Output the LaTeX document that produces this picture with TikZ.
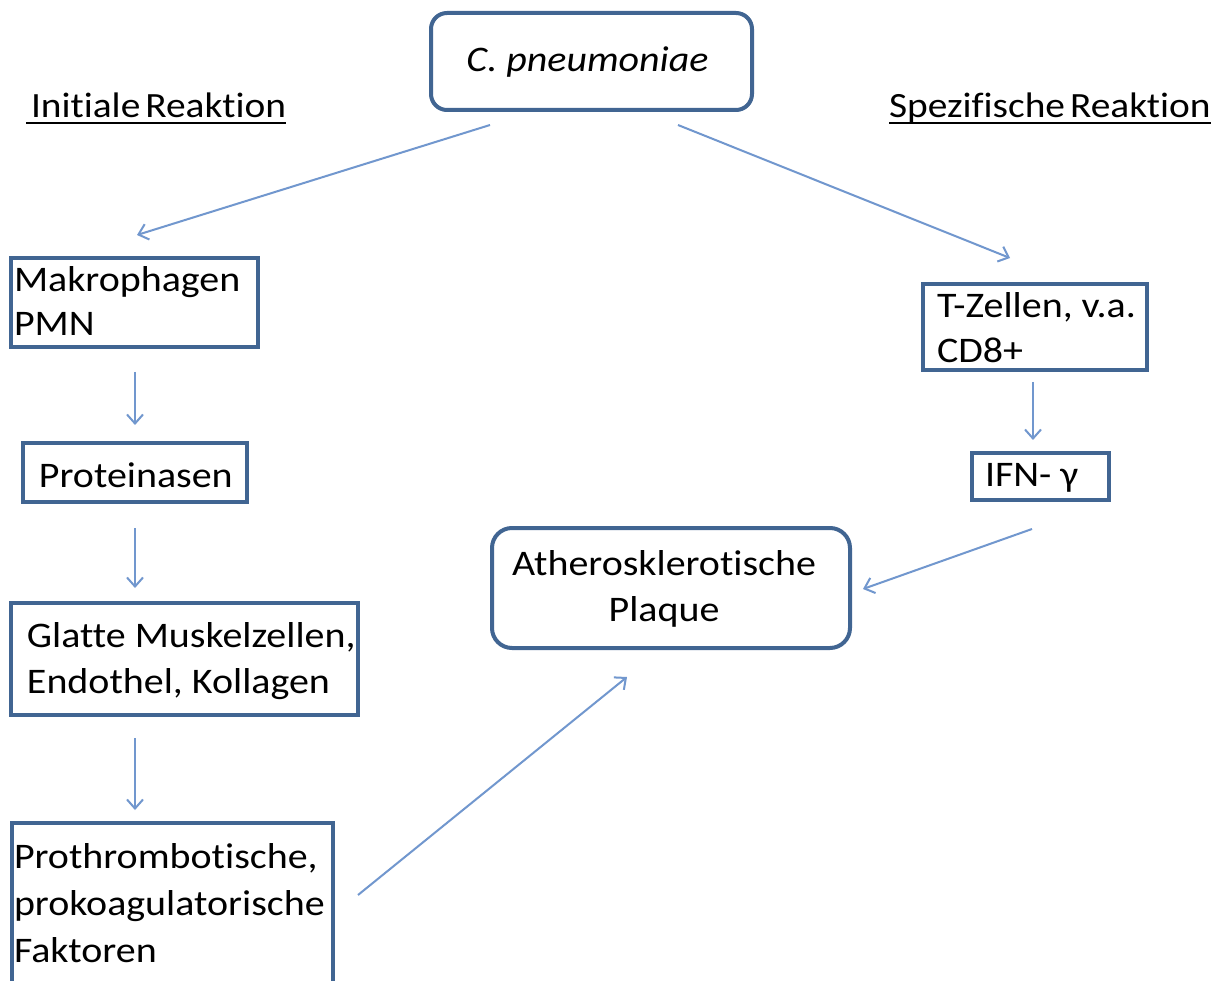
\documentclass[tikz,border=0pt]{standalone}
\usepackage{fontspec}
\setmainfont{Carlito}[FakeStretch=1.11, Ligatures=NoCommon]
\usetikzlibrary{arrows.meta}
\definecolor{boxblue}{RGB}{65,101,146}
\definecolor{arrblue}{RGB}{113,151,206}
% #1 height, #2 width, #3 left pad, #4 baselineskip, #5 first baseline from top, #6 text
\newcommand\ltext[6]{\parbox[c][#1][t]{#2}{\raggedright\leftskip=#3\baselineskip=#4\rule{0pt}{#5}\ignorespaces#6}}
% #3 extra right pad (centred text)
\newcommand\ctext[6]{\parbox[c][#1][t]{#2}{\centering\leftskip=0pt plus 1fil\rightskip=#3 plus 1fil\baselineskip=#4\rule{0pt}{#5}\ignorespaces#6}}
\tikzset{
  sbox/.style={draw=boxblue, line width=4pt, inner sep=0pt, outer sep=0pt, anchor=north west,
    font=\fontsize{36}{45}\selectfont, text=black},
  rbox/.style={sbox, rounded corners=16pt},
  head/.style={inner sep=0pt, outer sep=0pt, anchor=base west, font=\fontsize{35.5}{45}\selectfont},
  ul/.style={line width=2pt, black},
  arr/.style={draw=arrblue, line width=2pt, -{Straight Barb[length=9pt,width=16pt]}}
}
\begin{document}
\begin{tikzpicture}[x=1pt,y=-1pt]
\fill[white] (0,0) rectangle (1227,981);
\useasboundingbox (0,0) rectangle (1227,981);
\clip (0,0) rectangle (1227,981);

% headings
\node[head] (h1) at (31,118) {Initiale\hspace{5pt}Reaktion};
\node[head] (h2) at (889,118) {Spezifische\hspace{5pt}Reaktion};
\draw[ul] ([xshift=-5pt,yshift=-5pt]h1.base west) -- ([yshift=-5pt]h1.base east);
\draw[ul] ([yshift=-5pt]h2.base west) -- ([yshift=-5pt]h2.base east);

% boxes
\node[rbox] (cp) at (431,13) {\ctext{97pt}{321pt}{8pt}{45pt}{59pt}{\itshape C. pneumoniae}};
\node[sbox] (mak) at (11,258) {\ltext{89pt}{247pt}{3pt}{44pt}{34pt}{Makrophagen\\PMN}};
\node[sbox] (prot) at (23,443) {\ltext{59pt}{224pt}{16pt}{45pt}{45pt}{Proteinasen}};
\node[sbox] (glatte) at (11,603) {\ltext{112pt}{347pt}{16pt}{46pt}{44pt}{Glatte Muskelzellen,\\Endothel, Kollagen}};
\node[sbox] (proth) at (12,823) {\ltext{200pt}{321pt}{2pt}{47pt}{45pt}{Prothrombotische,\\prokoagulatorische\\Faktoren}};
\node[sbox] (tz) at (923,284) {\ltext{86pt}{224pt}{14pt}{45pt}{34pt}{T-Zellen, v.a.\\CD8+}};
\node[sbox] (ifn) at (972,453) {\ltext{47pt}{137pt}{13pt}{45pt}{33pt}{IFN- γ}};
\node[rbox, rounded corners=20pt] (plq) at (492,528) {\ctext{120pt}{358pt}{14pt}{46pt}{47pt}{Atherosklerotische\\Plaque}};

% connectors
\draw[arr] ([xshift=-101.5pt,yshift=-15pt]cp.south) -- ([xshift=2.5pt,yshift=23pt]mak.north);
\draw[arr] ([xshift=86.5pt,yshift=-15pt]cp.south) -- ([xshift=-25pt,yshift=26pt]tz.north);
\draw[arr] ([xshift=0.5pt,yshift=-25pt]mak.south) -- ([yshift=18pt]prot.north);
\draw[arr] ([yshift=-26pt]prot.south) -- ([xshift=-49.5pt,yshift=15pt]glatte.north);
\draw[arr] ([xshift=-49.5pt,yshift=-23pt]glatte.south) -- ([xshift=-37.5pt,yshift=13pt]proth.north);
\draw[arr] ([xshift=25pt,yshift=-72pt]proth.north east) -- ([xshift=-44pt,yshift=-29pt]plq.south);
\draw[arr] ([xshift=-2pt,yshift=-12pt]tz.south) -- ([xshift=-7.5pt,yshift=13pt]ifn.north);
\draw[arr] ([xshift=-8.5pt,yshift=-29pt]ifn.south) -- ([xshift=13pt,yshift=-1pt]plq.east);
\end{tikzpicture}
\end{document}
